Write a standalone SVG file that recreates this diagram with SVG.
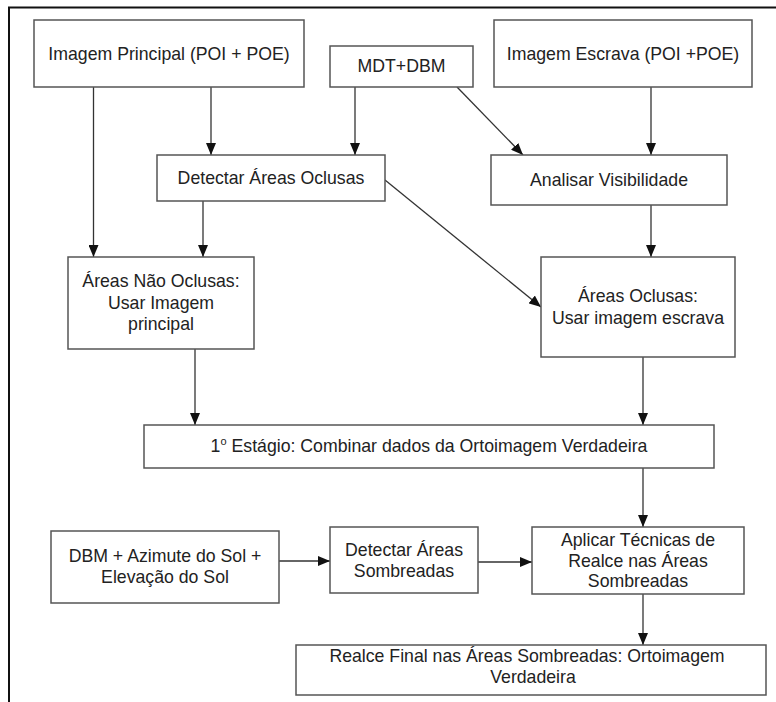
<svg xmlns="http://www.w3.org/2000/svg" width="776" height="702" viewBox="0 0 776 702">
<style>
.box{fill:#fff;stroke:#555;stroke-width:1.5}
.t{font-family:"Liberation Sans",Arial,sans-serif;font-size:17.7px;fill:#222;text-anchor:middle}
.c{stroke:#333;stroke-width:1.3;fill:none;marker-end:url(#ah)}
</style>
<defs>
<marker id="ah" markerUnits="userSpaceOnUse" markerWidth="12" markerHeight="10" refX="12" refY="5" orient="auto">
<path d="M0,0 L12,5 L0,10 z" fill="#111"/>
</marker>
</defs>
<rect width="776" height="702" fill="#fff"/>
<path d="M9,702 V7.5 H776" fill="none" stroke="#111" stroke-width="2"/>
<g id="connectors">
<line class="c" x1="93.5" y1="87" x2="93.5" y2="257"/>
<line class="c" x1="211" y1="87" x2="211" y2="155"/>
<line class="c" x1="355" y1="87" x2="355" y2="155"/>
<line class="c" x1="457" y1="87" x2="523" y2="155"/>
<line class="c" x1="651" y1="87" x2="651" y2="155"/>
<line class="c" x1="385" y1="180" x2="541" y2="307"/>
<line class="c" x1="203" y1="201" x2="203" y2="257"/>
<line class="c" x1="651" y1="205" x2="651" y2="257"/>
<line class="c" x1="195" y1="349" x2="195" y2="425"/>
<line class="c" x1="643" y1="357" x2="643" y2="425"/>
<line class="c" x1="643" y1="468" x2="643" y2="527"/>
<line class="c" x1="279" y1="561" x2="330" y2="561"/>
<line class="c" x1="478" y1="562" x2="532" y2="562"/>
<line class="c" x1="643" y1="594" x2="643" y2="645"/>
</g>
<g id="imagem-principal">
<rect class="box" x="34" y="20" width="270" height="67"/>
<text class="t" x="169" y="60">Imagem Principal (POI + POE)</text>
</g>
<g id="mdt-dbm">
<rect class="box" x="330" y="46" width="143" height="41"/>
<text class="t" x="401.5" y="72">MDT+DBM</text>
</g>
<g id="imagem-escrava">
<rect class="box" x="494" y="20" width="258" height="67"/>
<text class="t" x="623" y="60">Imagem Escrava (POI +POE)</text>
</g>
<g id="detectar-oclusas">
<rect class="box" x="157" y="155" width="228" height="46"/>
<text class="t" x="271" y="184">Detectar Áreas Oclusas</text>
</g>
<g id="analisar-visibilidade">
<rect class="box" x="491" y="155" width="236" height="50"/>
<text class="t" x="609" y="186">Analisar Visibilidade</text>
</g>
<g id="nao-oclusas">
<rect class="box" x="68" y="257" width="186" height="92"/>
<text class="t" x="161" y="287">Áreas Não Oclusas:</text>
<text class="t" x="161" y="308.5">Usar Imagem</text>
<text class="t" x="161" y="330">principal</text>
</g>
<g id="oclusas">
<rect class="box" x="541" y="257" width="194" height="100"/>
<text class="t" x="638" y="302">Áreas Oclusas:</text>
<text class="t" x="638" y="323.5">Usar imagem escrava</text>
</g>
<g id="estagio1">
<rect class="box" x="144" y="425" width="570" height="43"/>
<text class="t" x="429" y="452">1<tspan font-size="11" dy="-7">o</tspan><tspan dy="7"> Estágio: Combinar dados da Ortoimagem Verdadeira</tspan></text>
</g>
<g id="dbm-sol">
<rect class="box" x="51" y="531" width="228" height="72"/>
<text class="t" x="165" y="562">DBM + Azimute do Sol +</text>
<text class="t" x="165" y="583">Elevação do Sol</text>
</g>
<g id="detectar-sombreadas">
<rect class="box" x="330" y="527" width="148" height="66"/>
<text class="t" x="404" y="556">Detectar Áreas</text>
<text class="t" x="404" y="577">Sombreadas</text>
</g>
<g id="aplicar-tecnicas">
<rect class="box" x="532" y="527" width="212" height="67"/>
<text class="t" x="638" y="546">Aplicar Técnicas de</text>
<text class="t" x="638" y="566.5">Realce nas Áreas</text>
<text class="t" x="638" y="587">Sombreadas</text>
</g>
<g id="realce-final">
<rect class="box" x="296" y="645" width="470" height="50"/>
<text class="t" x="527" y="662">Realce Final nas Áreas Sombreadas: Ortoimagem</text>
<text class="t" x="533" y="683">Verdadeira</text>
</g>
</svg>
